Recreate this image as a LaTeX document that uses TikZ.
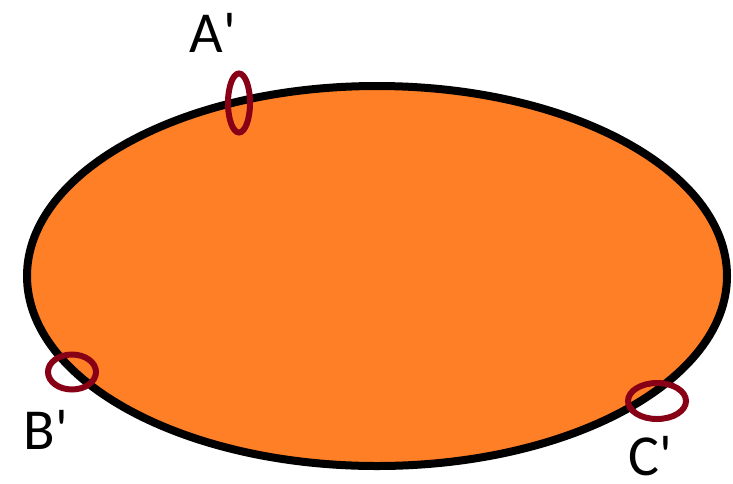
\documentclass[tikz,border=0pt]{standalone}
\usepackage{fontspec}
\setmainfont{Carlito}[Ligatures=TeXOff]
\usetikzlibrary{shapes.geometric}
\definecolor{paintorange}{HTML}{FF7F27}
\definecolor{paintred}{HTML}{880015}
\begin{document}
\begin{tikzpicture}[x=1pt,y=-1pt,
  ring/.style={draw=paintred,line width=6pt,ellipse,inner sep=0pt},
  lbl/.style={font=\fontsize{58}{60}\selectfont,inner sep=0pt,text=black}]
\useasboundingbox (0,0) rectangle (733,483);
\draw[fill=paintorange,draw=black,line width=8pt] (377,276) ellipse[x radius=350,y radius=190];
\node[ring,minimum width=22pt,minimum height=59pt] (ra) at (239,103) {};
\node[ring,minimum width=48pt,minimum height=35pt] (rb) at (72,372) {};
\node[ring,minimum width=58pt,minimum height=36pt] (rc) at (657,401) {};
\node[lbl] (la) at (213,33) {A'};
\node[lbl] (lb) at (46,430) {B'};
\node[lbl] (lc) at (650,456) {C'};
\end{tikzpicture}
\end{document}
